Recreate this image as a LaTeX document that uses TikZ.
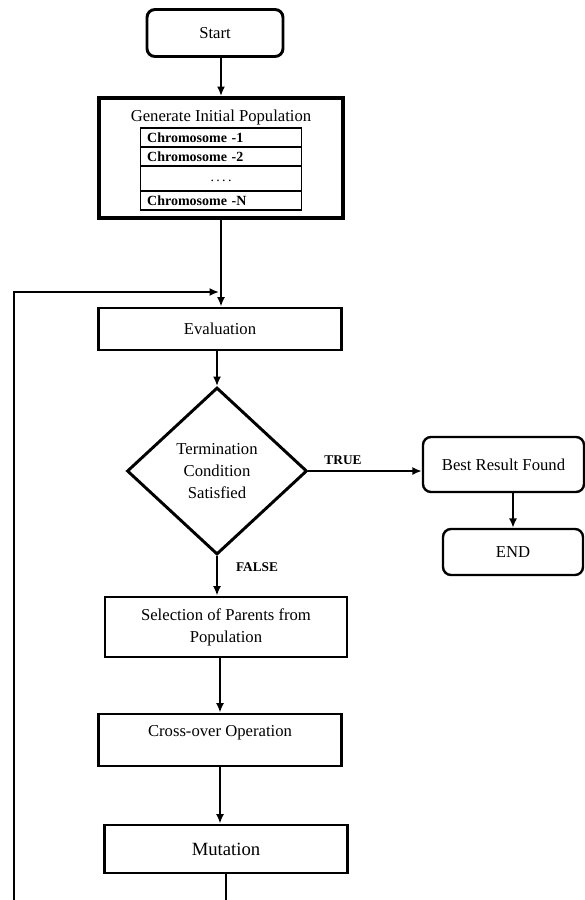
\documentclass[tikz,border=0pt]{standalone}
\usepackage{fontspec}
\setmainfont{Liberation Serif}
\usetikzlibrary{shapes.geometric,arrows.meta}
\tikzstyle{box}=[draw, line width=2.2pt, inner sep=0pt, align=center, font=\fontsize{12.5}{16.5}\selectfont]
\tikzstyle{roundbox}=[box, rounded corners=6pt]
\tikzstyle{row}=[draw, line width=0.8pt, inner xsep=5pt, inner ysep=0pt, text width=110.75pt, align=left, font=\fontsize{10.5}{11}\selectfont\bfseries]
\tikzstyle{decision}=[box, diamond, aspect=1.08, minimum width=135pt, minimum height=125.25pt]
\tikzstyle{flow}=[line width=1.6pt, -{Latex[length=7pt,width=6pt]}]
\tikzstyle{tag}=[font=\fontsize{10}{11}\selectfont\bfseries]

\begin{document}
\begin{tikzpicture}[x=0.75pt, y=-0.75pt]
	\useasboundingbox (0,0) rectangle (585,900);
	\node[roundbox, minimum width=102pt, minimum height=35.25pt] (start) at (215,33) {Start};
	\node[box, line width=3pt, minimum width=183pt, minimum height=90pt] (gen) at (221,158) {};
	\node[font=\fontsize{12.5}{14}\selectfont] (gentitle) at (221,117) {Generate Initial Population};
	\node[row, minimum height=14.25pt] (chromA) at (221,137.5) {Chromosome -1};
	\node[row, minimum height=14.25pt] (chromB) at (221,156.5) {Chromosome -2};
	\node[row, minimum height=18.75pt, align=center] (chromD) at (221,178.5) {\raisebox{-5pt}{\mdseries .\,.\,.\,.}};
	\node[row, minimum height=14.25pt] (chromN) at (221,200.5) {Chromosome -N};
	\node[box, minimum width=182.25pt, minimum height=31.5pt] (eval) at (220,329) {Evaluation};
	\node[decision] (cond) at (217,471) {Termination\\Condition\\Satisfied};
	\node[roundbox, line width=1.8pt, minimum width=120.75pt, minimum height=41.25pt] (best) at (503.5,464.5) {Best Result Found};
	\node[roundbox, line width=1.8pt, minimum width=105pt, minimum height=34.5pt] (finish) at (513,552) {END};
	\node[box, minimum width=181.5pt, minimum height=45pt] (select) at (226,627) {Selection of Parents from\\Population};
	\node[box, minimum width=182.25pt, minimum height=39pt] (cross) at (220,740) {};
	\node (crosstxt) at (220,733) {\fontsize{12.5}{14}\selectfont Cross-over Operation};
	\node[box, minimum width=182.25pt, minimum height=36pt, font=\fontsize{14}{16}\selectfont] (mut) at (226,849) {Mutation};
	\node[tag] (truetag) at (343,460) {TRUE};
	\node[tag] (falsetag) at (257,567) {FALSE};
	\coordinate (loopbot) at (14,900);
	\coordinate (looptop) at (14,292);
	\coordinate (loopend) at (219,292);
	\coordinate (mutbot) at (mut.south |- loopbot);

	\draw[flow] (start.south -| gen.north) -- (gen.north);
	\draw[flow] (gen.south) -- (gen.south |- eval.north);
	\draw[flow] (loopbot) -- (looptop) -- (loopend);
	\draw[flow] (eval.south -| cond.north) -- (cond.north);
	\draw[flow] (cond.east) -- (cond.east -| best.west);
	\draw[flow] (best.south -| finish.north) -- (finish.north);
	\draw[flow] (cond.south) -- (cond.south |- select.north);
	\draw[flow] (select.south -| cross.north) -- (cross.north);
	\draw[flow] (cross.south) -- (cross.south |- mut.north);
	\draw[line width=1.6pt] (mut.south) -- (mutbot);
\end{tikzpicture}
\end{document}
